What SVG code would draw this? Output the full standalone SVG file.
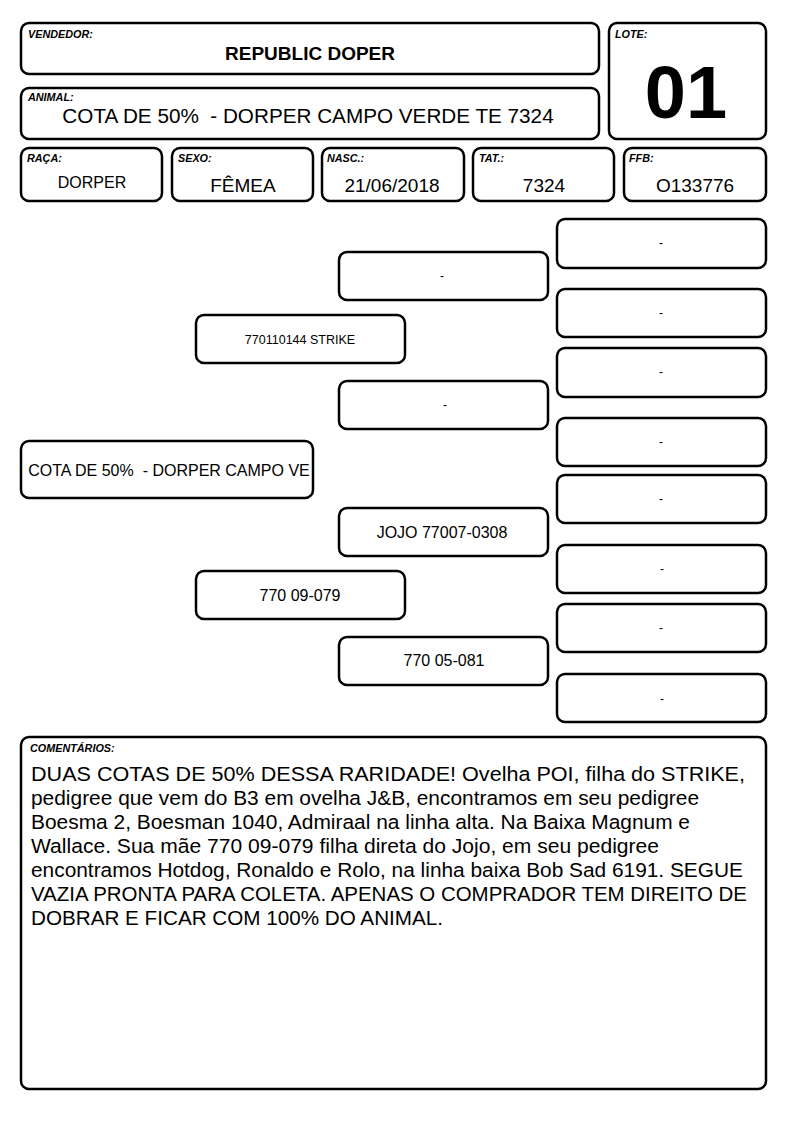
<svg xmlns="http://www.w3.org/2000/svg" width="794" height="1123" viewBox="0 0 794 1123">
<style>
text{font-family:"Liberation Sans",Arial,sans-serif;fill:#000;white-space:pre}
.box{fill:#fff;stroke:#000;stroke-width:2.5}
.lbl{font-size:10.8px;font-weight:bold;font-style:italic}
.val{font-size:19px;text-anchor:middle}
.ped{font-size:16px;text-anchor:middle}
.dash{font-size:12px;text-anchor:middle}
.com{font-size:20.5px}
</style>
<rect width="794" height="1123" fill="#fff"/>
<g id="vendedor"><rect class="box" x="21" y="23" width="578" height="51" rx="8"/><text class="lbl" x="28" y="38">VENDEDOR:</text><text x="310" y="60" style="font-size:19px;font-weight:bold;text-anchor:middle">REPUBLIC DOPER</text></g>
<g id="animal"><rect class="box" x="21" y="88" width="578" height="51" rx="8"/><text class="lbl" x="28" y="101">ANIMAL:</text><text x="308" y="123" style="font-size:20.7px;text-anchor:middle">COTA DE 50%  - DORPER CAMPO VERDE TE 7324</text></g>
<g id="lote"><rect class="box" x="609" y="23" width="157" height="116" rx="8"/><text class="lbl" x="615" y="38">LOTE:</text><text x="686" y="118" style="font-size:74px;font-weight:bold;text-anchor:middle">01</text></g>
<g id="raca"><rect class="box" x="21" y="148" width="141" height="53" rx="8"/><text class="lbl" x="27" y="162">RAÇA:</text><text x="92" y="188" style="font-size:16px;text-anchor:middle">DORPER</text></g>
<g id="sexo"><rect class="box" x="172" y="148" width="141" height="53" rx="8"/><text class="lbl" x="178" y="162">SEXO:</text><text class="val" x="243" y="192">FÊMEA</text></g>
<g id="nasc"><rect class="box" x="322" y="148" width="142" height="53" rx="8"/><text class="lbl" x="327" y="162">NASC.:</text><text class="val" x="392" y="192">21/06/2018</text></g>
<g id="tat"><rect class="box" x="473" y="148" width="141" height="53" rx="8"/><text class="lbl" x="479" y="162">TAT.:</text><text class="val" x="544" y="192">7324</text></g>
<g id="ffb"><rect class="box" x="624" y="148" width="142" height="53" rx="8"/><text class="lbl" x="629" y="162">FFB:</text><text class="val" x="695" y="192">O133776</text></g>
<g id="connectors"/>
<g id="p0"><rect class="box" x="21" y="441" width="292" height="57" rx="8"/><text class="ped" x="169" y="476">COTA DE 50%  - DORPER CAMPO VE</text></g>
<g id="p1a"><rect class="box" x="196" y="315" width="209" height="48" rx="8"/><text x="300" y="344" style="font-size:12.5px;text-anchor:middle">770110144 STRIKE</text></g>
<g id="p1b"><rect class="box" x="196" y="571" width="209" height="48" rx="8"/><text class="ped" x="300" y="601">770 09-079</text></g>
<g id="p2a"><rect class="box" x="339" y="252" width="209" height="48" rx="8"/><text class="dash" x="442" y="280">-</text></g>
<g id="p2b"><rect class="box" x="339" y="381" width="209" height="48" rx="8"/><text class="dash" x="445" y="409">-</text></g>
<g id="p2c"><rect class="box" x="339" y="508" width="209" height="48" rx="8"/><text class="ped" x="442" y="538">JOJO 77007-0308</text></g>
<g id="p2d"><rect class="box" x="339" y="637" width="209" height="48" rx="8"/><text class="ped" x="444" y="666">770 05-081</text></g>
<g id="p3a"><rect class="box" x="557" y="219" width="209" height="49" rx="8"/><text class="dash" x="661" y="247">-</text></g>
<g id="p3b"><rect class="box" x="557" y="289" width="209" height="48" rx="8"/><text class="dash" x="661" y="317">-</text></g>
<g id="p3c"><rect class="box" x="557" y="348" width="209" height="49" rx="8"/><text class="dash" x="661" y="376">-</text></g>
<g id="p3d"><rect class="box" x="557" y="418" width="209" height="48" rx="8"/><text class="dash" x="661" y="446">-</text></g>
<g id="p3e"><rect class="box" x="557" y="475" width="209" height="48" rx="8"/><text class="dash" x="661" y="503">-</text></g>
<g id="p3f"><rect class="box" x="557" y="545" width="209" height="48" rx="8"/><text class="dash" x="662" y="573">-</text></g>
<g id="p3g"><rect class="box" x="557" y="604" width="209" height="48" rx="8"/><text class="dash" x="661" y="632">-</text></g>
<g id="p3h"><rect class="box" x="557" y="674" width="209" height="48" rx="8"/><text class="dash" x="662" y="703">-</text></g>
<g id="comentarios"><rect class="box" x="21" y="737" width="745" height="352" rx="8"/><text class="lbl" x="30" y="752">COMENTÁRIOS:</text>
<text class="com" x="31" y="781" textLength="714" lengthAdjust="spacingAndGlyphs">DUAS COTAS DE 50% DESSA RARIDADE! Ovelha POI, filha do STRIKE,</text>
<text class="com" x="31" y="805" textLength="668" lengthAdjust="spacingAndGlyphs">pedigree que vem do B3 em ovelha J&amp;B, encontramos em seu pedigree</text>
<text class="com" x="31" y="829" textLength="659" lengthAdjust="spacingAndGlyphs">Boesma 2, Boesman 1040, Admiraal na linha alta. Na Baixa Magnum e</text>
<text class="com" x="31" y="853" textLength="628" lengthAdjust="spacingAndGlyphs">Wallace. Sua mãe 770 09-079 filha direta do Jojo, em seu pedigree</text>
<text class="com" x="31" y="877" textLength="712" lengthAdjust="spacingAndGlyphs">encontramos Hotdog, Ronaldo e Rolo, na linha baixa Bob Sad 6191. SEGUE</text>
<text class="com" x="31" y="901" textLength="716" lengthAdjust="spacingAndGlyphs">VAZIA PRONTA PARA COLETA. APENAS O COMPRADOR TEM DIREITO DE</text>
<text class="com" x="31" y="925" textLength="412" lengthAdjust="spacingAndGlyphs">DOBRAR E FICAR COM 100% DO ANIMAL.</text>
</g>
</svg>
